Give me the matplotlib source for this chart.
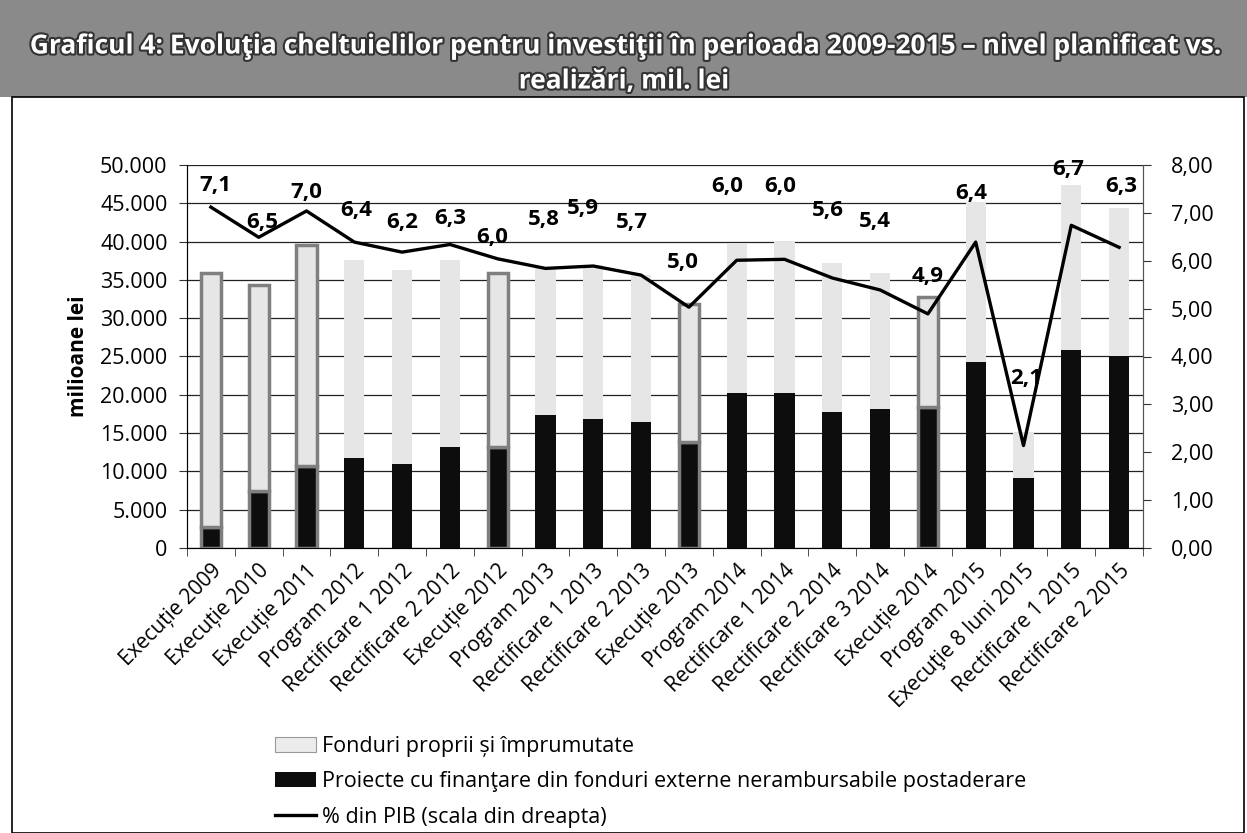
import numpy as np
import matplotlib
matplotlib.use("Agg")
import matplotlib.pyplot as plt
import matplotlib.patheffects as pe
from matplotlib.patches import Rectangle, Patch
from matplotlib.lines import Line2D
from matplotlib.ticker import FuncFormatter, MultipleLocator, FixedLocator

plt.rcParams["font.family"] = ["Open Sans", "DejaVu Sans"]

# date
categorii = [
    "Execuție 2009", "Execuție 2010", "Execuție 2011", "Program 2012",
    "Rectificare 1 2012", "Rectificare 2 2012", "Execuție 2012", "Program 2013",
    "Rectificare 1 2013", "Rectificare 2 2013", "Execuție 2013", "Program 2014",
    "Rectificare 1 2014", "Rectificare 2 2014", "Rectificare 3 2014", "Execuție 2014",
    "Program 2015", "Execuţie 8 luni 2015", "Rectificare 1 2015", "Rectificare 2 2015",
]
total = [35900, 34300, 39500, 37600, 36300, 37600, 35900, 36700, 37000, 35600,
         31800, 39800, 40000, 37200, 35900, 32800, 45200, 15000, 47400, 44400]
fonduri_externe = [2700, 7400, 10700, 11700, 11000, 13200, 13200, 17300, 16800, 16500,
                   13900, 20200, 20200, 17700, 18200, 18400, 24300, 9100, 25800, 25000]
pib = [7.12, 6.49, 7.04, 6.39, 6.18, 6.34, 6.04, 5.84, 5.89, 5.70,
       5.03, 6.01, 6.03, 5.64, 5.39, 4.89, 6.39, 2.14, 6.74, 6.28]
executie = [c.startswith("Execuție") and "luni" not in c for c in categorii]

fonduri_proprii = [t - e for t, e in zip(total, fonduri_externe)]

# deplasari etichete (pixeli)
lbl_dx = [4, 4, 0, 2, 0, 0, -6, -2, -10, -9, -6, -10, -4, -4, -5, 0, -4, 3, -3, 2]
lbl_dy = [22, 15, 18, 32, 30, 26, 21, 49, 58, 53, 45, 74, 73, 67, 68, 37, 49, 67, 56, 61]

fig = plt.figure(figsize=(12.47, 8.33), dpi=100)
W, H = 1247, 833

# banda titlu
fig.patches.append(Rectangle((0, 1 - 97 / H), 1, 97 / H, transform=fig.transFigure,
                             facecolor="#8a8a8a", edgecolor="none", zorder=0))
fig.patches.append(Rectangle((12 / W, 0), (1244 - 12) / W, 1 - 97 / H,
                             transform=fig.transFigure, facecolor="none",
                             edgecolor="black", linewidth=1.2, zorder=0))
for txt, y in [("Graficul 4: Evoluţia cheltuielilor pentru investiţii în perioada 2009-2015 – nivel planificat vs.", 46),
               ("realizări, mil. lei", 81)]:
    fig.text(0.5, 1 - y / H, txt, ha="center", va="center", color="white",
             fontsize=19, fontweight="bold",
             path_effects=[pe.withStroke(linewidth=3, foreground="#333333")])

ax = fig.add_axes([187 / W, 1 - 548 / H, (1143 - 187) / W, (548 - 165) / H])
x = np.arange(len(categorii))
w = 0.42

ec = ["#7f7f7f" if e else "none" for e in executie]
lw = [2.5 if e else 0 for e in executie]
ax.bar(x, fonduri_externe, w, color="#0d0d0d", edgecolor=ec, linewidth=lw, zorder=3)
ax.bar(x, fonduri_proprii, w, bottom=fonduri_externe, color="#e6e6e6", edgecolor=ec,
       linewidth=lw, zorder=3)

ax.set_xlim(-0.5, len(categorii) - 0.5)
ax.set_ylim(0, 50000)
ax.yaxis.set_major_locator(MultipleLocator(5000))
ax.yaxis.set_major_formatter(FuncFormatter(lambda v, p: f"{int(v):,}".replace(",", ".")))
ax.grid(axis="y", color="#222222", linewidth=0.9, zorder=0)
ax.set_axisbelow(True)
ax.set_xticks(x)
ax.set_xticklabels(categorii, rotation=45, ha="right", rotation_mode="anchor", fontsize=15)
ax.tick_params(axis="x", length=0, pad=9)
ax.xaxis.set_minor_locator(FixedLocator(np.arange(-0.5, len(categorii), 1)))
ax.tick_params(axis="x", which="minor", length=6, color="#333333")
ax.tick_params(axis="y", labelsize=15.5, length=6, pad=8, color="#333333")
ax.set_ylabel("milioane lei", fontsize=15, fontweight="bold", labelpad=8)
ax.spines["top"].set_visible(False)
for s in ["left", "bottom", "right"]:
    ax.spines[s].set_color("#555555")

ax2 = ax.twinx()
ax2.set_ylim(0, 8)
ax2.yaxis.set_major_locator(MultipleLocator(1))
ax2.yaxis.set_major_formatter(FuncFormatter(lambda v, p: f"{v:.2f}".replace(".", ",")))
ax2.tick_params(axis="y", labelsize=15.5, length=6, pad=14, color="#333333")
ax2.spines["top"].set_visible(False)
ax2.spines["right"].set_color("#555555")
ax2.plot(x, pib, color="black", linewidth=2.4, zorder=4)
for i, v in enumerate(pib):
    ax2.annotate(f"{v:.1f}".replace(".", ","), (x[i], v), xytext=(lbl_dx[i], lbl_dy[i]),
                 textcoords="offset pixels", ha="center", va="center",
                 fontsize=16, fontweight="bold")

handles = [
    Patch(facecolor="#ececec", edgecolor="#999999", linewidth=0.8,
          label="Fonduri proprii și împrumutate"),
    Patch(facecolor="#0d0d0d", edgecolor="none",
          label="Proiecte cu finanţare din fonduri externe nerambursabile postaderare"),
    Line2D([], [], color="black", linewidth=2.4, label="% din PIB (scala din dreapta)"),
]
fig.legend(handles=handles, loc="upper left", bbox_to_anchor=(266 / W, 1 - 727 / H),
           frameon=False, fontsize=15.5, handlelength=1.9, handleheight=0.7,
           handletextpad=0.3, labelspacing=0.68, borderaxespad=0)

fig.savefig("out.png", dpi=100)
